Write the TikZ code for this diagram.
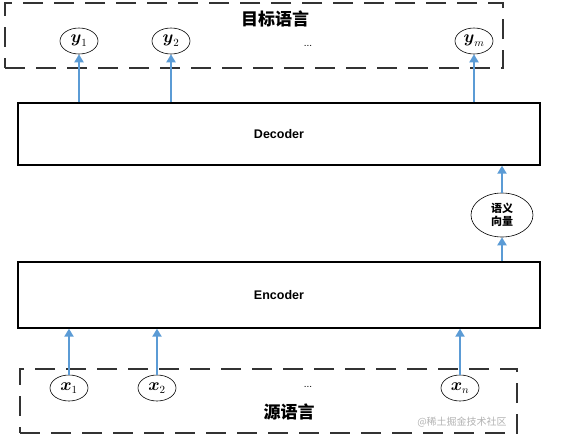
\documentclass[tikz,border=0pt]{standalone}
\usepackage{amsmath}
\usepackage{fontspec}
\setmainfont{Liberation Sans}
\newfontfamily\cjk{Noto Sans CJK SC}
\usetikzlibrary{arrows.meta,shapes.geometric}
\definecolor{arrowblue}{RGB}{91,155,213}

\begin{document}
\begin{tikzpicture}[x=1pt,y=-1pt,line width=1pt,>={Triangle[length=8pt,width=9pt]},
  langbox/.style={draw=black!80,line width=1.6pt,dash pattern=on 20pt off 11pt,inner sep=0pt},
  coder/.style={draw,line width=1.3pt,minimum width=522pt,inner sep=0pt,font=\bfseries\fontsize{12.5}{14}\selectfont},
  word/.style={draw,ellipse,line width=0.6pt,minimum width=38pt,minimum height=26pt,inner sep=0pt,font=\fontsize{16}{16}\selectfont},
  flow/.style={->,arrowblue,line width=2.6pt}]
  \useasboundingbox (0,0) rectangle (570,442);
  % zielsprache oben
  \node[langbox,minimum width=498pt,minimum height=65pt] (tgt) at (254,35.5) {};
  \node[font=\cjk\bfseries\fontsize{17}{17}\selectfont] (tgttitle) at (275,19) {目标语言};
  \node[word] (y1) at (79,41) {$\boldsymbol{y}_1$};
  \node[word] (y2) at (171,41) {$\boldsymbol{y}_2$};
  \node[word] (ym) at (474,41) {$\boldsymbol{y}_m$};
  \node[font=\normalsize] (topdots) at (308,46) {...};
  % encoder / decoder
  \node[coder,minimum height=62pt] (dec) at (279,134) {Decoder};
  \node[coder,minimum height=66pt] (enc) at (279,295) {Encoder};
  \node[draw,ellipse,line width=0.6pt,minimum width=62pt,minimum height=44pt,inner sep=0pt,
        align=center,font=\cjk\bfseries\fontsize{11}{13}\selectfont] (vec) at (502,215) {语义\\向量};
  % quellsprache unten
  \node[langbox,minimum width=497pt,minimum height=64pt] (src) at (268.5,401) {};
  \node[word] (x1) at (69,388) {$\boldsymbol{x}_1$};
  \node[word] (x2) at (157,388) {$\boldsymbol{x}_2$};
  \node[word] (xn) at (460,388) {$\boldsymbol{x}_n$};
  \node[font=\normalsize] (botdots) at (308,387) {...};
  \node[font=\cjk\bfseries\fontsize{17}{17}\selectfont] (srctitle) at (289,412) {源语言};
  \node[font=\cjk\fontsize{10}{10}\selectfont,text=black!30] (mark) at (462,422) {@稀土掘金技术社区};
  % pfeile
  \foreach \w in {y1,y2,ym} \draw[flow] (dec.north -| \w) -- (\w.south);
  \draw[flow] (vec.north) -- (dec.south -| vec);
  \draw[flow] (enc.north -| vec) -- (vec.south);
  \foreach \w in {x1,x2,xn} \draw[flow] (\w.north) -- (enc.south -| \w);
\end{tikzpicture}
\end{document}
